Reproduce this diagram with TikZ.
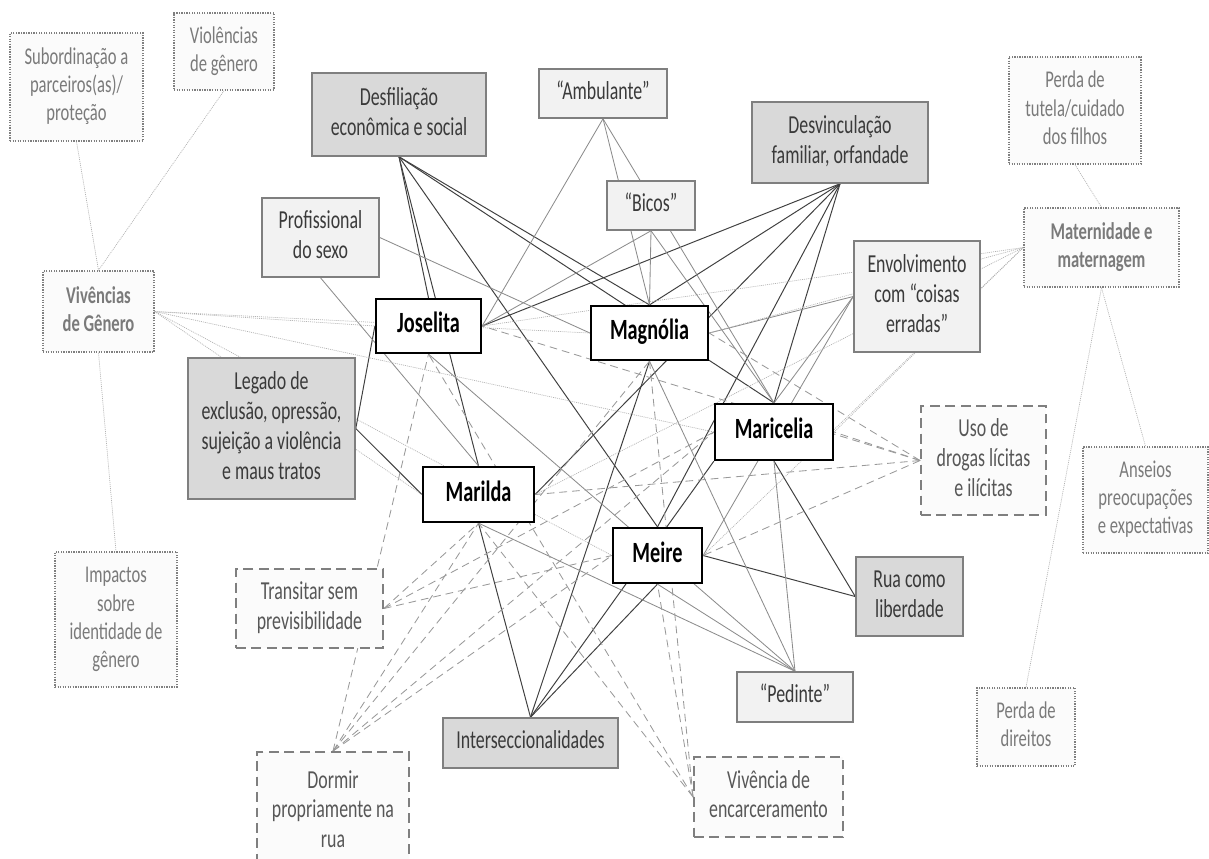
\documentclass[tikz,border=0pt]{standalone}
\usepackage{fontspec}
\setmainfont{Carlito}
\usepackage{graphicx}
\usetikzlibrary{backgrounds}

\definecolor{darkfill}{HTML}{D9D9D9}
\definecolor{lightfill}{HTML}{F2F2F2}
\definecolor{dashfill}{HTML}{FBFBFB}
\definecolor{boxline}{HTML}{7F7F7F}
\definecolor{boxtext}{HTML}{3A3A3A}
\definecolor{dottext}{HTML}{7A7A7A}

\newcommand{\catfont}{\fontsize{12.7pt}{14.6pt}\selectfont}
\newcommand{\dotcatfont}{\fontsize{11.8pt}{13.8pt}\selectfont}
\newcommand{\stretchtxt}[1]{\scalebox{1}[1.45]{\begin{tabular}{@{}c@{}}#1\end{tabular}}}

\begin{document}
\begin{tikzpicture}[x=0.025cm, y=-0.025cm,
    sz/.style 2 args={minimum width=#1*0.025cm, minimum height=#2*0.025cm}]
    \tikzstyle{woman} = [draw=black, line width=1.6pt, fill=white, inner sep=0pt,
        font=\fontsize{14.4pt}{17pt}\selectfont\bfseries]
    \tikzstyle{darkcat} = [draw=boxline, line width=1.1pt, fill=darkfill, text=boxtext,
        inner sep=0pt, font=\catfont]
    \tikzstyle{lightcat} = [draw=boxline, line width=1.1pt, fill=lightfill, text=boxtext,
        inner sep=0pt, font=\catfont]
    \tikzstyle{dashcat} = [draw=boxline, line width=1.3pt, dash pattern=on 7pt off 4pt,
        fill=dashfill, text=boxtext!85!white, inner sep=0pt, font=\catfont]
    \tikzstyle{dotcat} = [draw=boxline, line width=1pt, dash pattern=on 0.9pt off 0.9pt,
        fill=dashfill, text=dottext, inner sep=0pt, font=\dotcatfont]
    \tikzstyle{darkedge} = [draw=black!75, line width=0.7pt]
    \tikzstyle{grayedge} = [draw=black!45, line width=0.6pt]
    \tikzstyle{dashedge} = [draw=black!40, line width=0.6pt, dash pattern=on 5.5pt off 3.5pt]
    \tikzstyle{dotedge} = [draw=black!30, line width=0.5pt, dash pattern=on 0.7pt off 0.7pt]

    \useasboundingbox (0,0) rectangle (1209,858);

    % outer ring of categories
    \node [dotcat, sz={133}{108}] at (76.5,87) (subord) {\stretchtxt{Subordinação a\\parceiros(as)/\\proteção}};
    \node [dotcat, sz={100}{77}] at (224,51.5) (violen) {\stretchtxt{Violências\\de gênero}};
    \node [darkcat, sz={174}{83}] at (399,114.5) (desfil) {\stretchtxt{Desfiliação\\econômica e social}};
    \node [lightcat, sz={128}{49}] at (603,93.5) (ambul) {\stretchtxt{“Ambulante”}};
    \node [lightcat, sz={88}{49}] at (651,205.5) (bicos) {\stretchtxt{“Bicos”}};
    \node [darkcat, sz={176}{81}] at (840,142.5) (desvinc) {\stretchtxt{Desvinculação\\familiar, orfandade}};
    \node [dotcat, sz={132}{107}] at (1075,110.5) (tutela) {\stretchtxt{Perda de\\tutela/cuidado\\dos filhos}};
    \node [dotcat, sz={155}{79}, font=\dotcatfont\bfseries] at (1101.5,247.5) (matern) {\stretchtxt{Maternidade e\\maternagem}};
    \node [lightcat, sz={126}{111}] at (917,296.5) (envolv) {\stretchtxt{Envolvimento\\com “coisas\\erradas”}};
    \node [lightcat, sz={117}{79}] at (320.5,237.5) (profis) {\stretchtxt{Profissional\\do sexo}};
    \node [dotcat, sz={111}{81}, font=\dotcatfont\bfseries] at (98.5,311.5) (vivgen) {\stretchtxt{Vivências\\de Gênero}};
    \node [darkcat, sz={167}{141}] at (271.5,428.5) (legado) {\stretchtxt{Legado de\\exclusão, opressão,\\sujeição a violência\\e maus tratos}};
    \node [dashcat, sz={125}{109}] at (983.5,460.5) (drogas) {\stretchtxt{Uso de\\drogas lícitas\\e ilícitas}};
    \node [dotcat, sz={125}{106}] at (1145.5,500) (anseios) {\stretchtxt{Anseios\\preocupações\\e expectativas}};
    \node [dotcat, sz={122}{135}] at (116,619.5) (impactos) {\stretchtxt{Impactos\\sobre\\identidade de\\gênero}};
    \node [dashcat, sz={147}{79}] at (309.5,608.5) (transitar) {\stretchtxt{Transitar sem\\previsibilidade}};
    \node [darkcat, sz={107}{79}] at (909.5,596.5) (rua) {\stretchtxt{Rua como\\liberdade}};
    \node [lightcat, sz={116}{50}] at (795,697) (pedinte) {\stretchtxt{“Pedinte”}};
    \node [darkcat, sz={175}{50}] at (530.5,743) (intersec) {\stretchtxt{Interseccionalidades}};
    \node [dotcat, sz={98}{78}] at (1026,727) (direitos) {\stretchtxt{Perda de\\direitos}};
    \node [dashcat, sz={152}{120}] at (333,812) (dormir) {\stretchtxt{Dormir\\propriamente na\\rua}};
    \node [dashcat, sz={149}{80}] at (768.5,797) (encarc) {\stretchtxt{Vivência de\\encarceramento}};

    % the five women
    \node [woman, sz={105}{54}] at (428.5,326) (joselita) {\stretchtxt{Joselita}};
    \node [woman, sz={117}{54}] at (649.5,333) (magnolia) {\stretchtxt{Magnólia}};
    \node [woman, sz={118}{56}] at (774,432) (maricelia) {\stretchtxt{Maricelia}};
    \node [woman, sz={111}{55}] at (478.5,494.5) (marilda) {\stretchtxt{Marilda}};
    \node [woman, sz={89}{55}] at (657.5,555.5) (meire) {\stretchtxt{Meire}};

    \begin{scope}[on background layer]
    % grey boxes
    \draw[darkedge] (desfil.south) -- (joselita.north);
    \draw[darkedge] (desfil.south) -- (marilda.north);
    \draw[darkedge] (desfil.south) -- (magnolia.north);
    \draw[darkedge] (desfil.south) -- (maricelia.north);
    \draw[darkedge] (desfil.south) -- (meire.north);
    \draw[darkedge] (desvinc.south) -- (joselita.east);
    \draw[darkedge] (desvinc.south) -- (magnolia.north);
    \draw[darkedge] (desvinc.south) -- (maricelia.north);
    \draw[darkedge] (desvinc.south) -- (marilda.east);
    \draw[darkedge] (desvinc.south) -- (meire.north);
    \draw[darkedge] (legado.east) -- (joselita.west);
    \draw[darkedge] (legado.east) -- (marilda.west);
    \draw[darkedge] (rua.west) -- (maricelia.south);
    \draw[darkedge] (rua.west) -- (meire.east);
    \draw[darkedge] (intersec.north) -- (marilda.south);
    \draw[darkedge] (intersec.north) -- (magnolia.south);
    \draw[darkedge] (intersec.north) -- (meire.south);
    \draw[darkedge] (intersec.north) -- (maricelia.south west);
    % light boxes
    \draw[grayedge] (ambul.south) -- (joselita.east);
    \draw[grayedge] (ambul.south) -- (magnolia.north);
    \draw[grayedge] (ambul.south) -- (maricelia.north);
    \draw[grayedge] (bicos.south) -- (joselita.east);
    \draw[grayedge] (bicos.south) -- (magnolia.north);
    \draw[grayedge] (bicos.south) -- (maricelia.north);
    \draw[grayedge] (profis.east) -- (magnolia.west);
    \draw[grayedge] (profis.south) -- (marilda.north);
    \draw[grayedge] (envolv.west) -- (magnolia.east);
    \draw[grayedge] (envolv.west) -- (maricelia.north);
    \draw[grayedge] (envolv.west) -- (meire.east);
    \draw[grayedge] (pedinte.north) -- (joselita.south);
    \draw[grayedge] (pedinte.north) -- (magnolia.south);
    \draw[grayedge] (pedinte.north) -- (maricelia.south);
    \draw[grayedge] (pedinte.north) -- (marilda.south);
    \draw[grayedge] (pedinte.north) -- (meire.south);
    % dashed boxes
    \draw[dashedge] (drogas.west) -- (joselita.east);
    \draw[dashedge] (drogas.west) -- (magnolia.east);
    \draw[dashedge] (drogas.west) -- (maricelia.east);
    \draw[dashedge] (drogas.west) -- (marilda.east);
    \draw[dashedge] (drogas.west) -- (meire.east);
    \draw[dashedge] (transitar.east) -- (marilda.south);
    \draw[dashedge] (transitar.east) -- (maricelia.west);
    \draw[dashedge] (transitar.east) -- (meire.west);
    \draw[dashedge] (dormir.north) -- (joselita.south);
    \draw[dashedge] (dormir.north) -- (magnolia.south);
    \draw[dashedge] (dormir.north) -- (marilda.south);
    \draw[dashedge] (dormir.north) -- (maricelia.west);
    \draw[dashedge] (dormir.north) -- (meire.west);
    \draw[dashedge] (encarc.west) -- (joselita.south);
    \draw[dashedge] (encarc.west) -- (magnolia.south);
    \draw[dashedge] (encarc.west) -- (marilda.south);
    \draw[dashedge] (encarc.west) -- (meire.south);
    % dotted boxes
    \draw[dotedge] (vivgen.east) -- (joselita.west);
    \draw[dotedge] (vivgen.east) -- (magnolia.west);
    \draw[dotedge] (vivgen.east) -- (maricelia.west);
    \draw[dotedge] (vivgen.east) -- (marilda.west);
    \draw[dotedge] (vivgen.east) -- (meire.west);
    \draw[dotedge] (matern.west) -- (joselita.east);
    \draw[dotedge] (matern.west) -- (magnolia.east);
    \draw[dotedge] (matern.west) -- (maricelia.east);
    \draw[dotedge] (matern.west) -- (marilda.east);
    \draw[dotedge] (matern.west) -- (meire.east);
    \draw[dotedge] (subord.south) -- (vivgen.north);
    \draw[dotedge] (violen.south) -- (vivgen.north);
    \draw[dotedge] (vivgen.south) -- (impactos.north);
    \draw[dotedge] (tutela.south) -- (matern.north);
    \draw[dotedge] (matern.south) -- (anseios.north);
    \draw[dotedge] (matern.south) -- (direitos.north);
    \end{scope}
\end{tikzpicture}
\end{document}
